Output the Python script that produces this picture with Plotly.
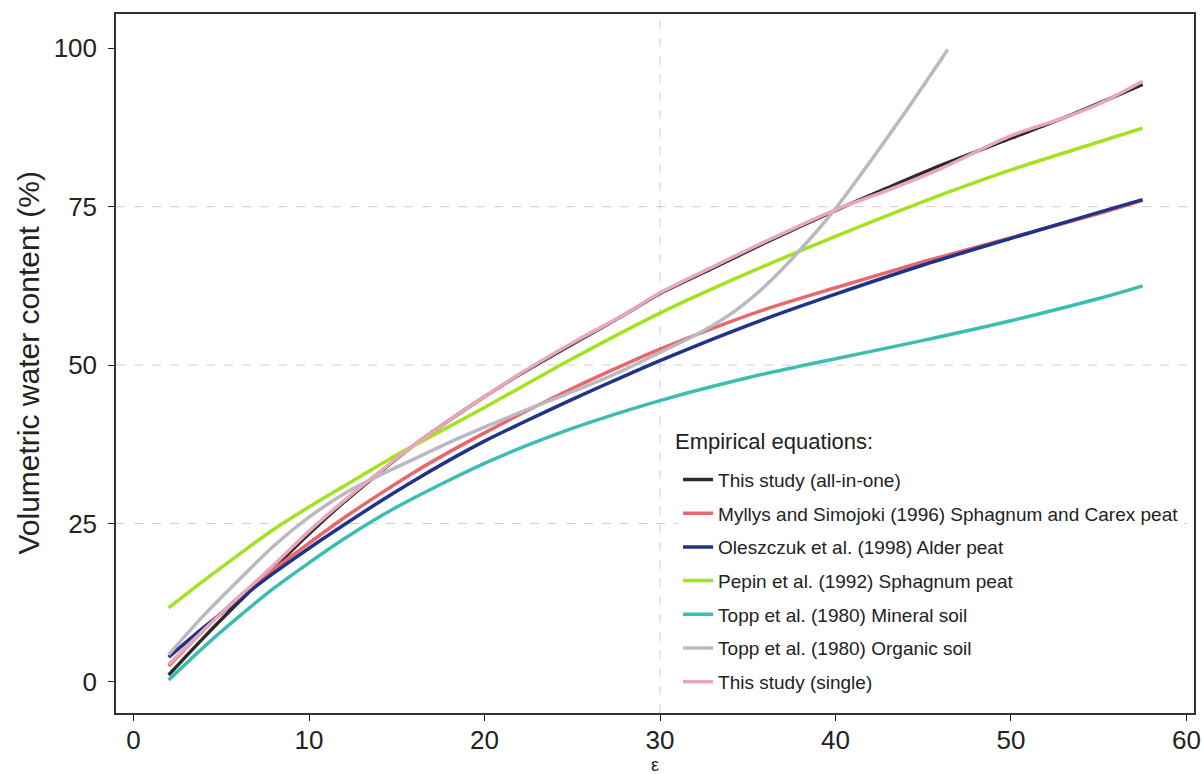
import plotly.graph_objects as go

# ---- data ----
eps_study = [2, 4, 6, 8, 10, 12, 14, 16, 18, 20, 22, 25, 28, 30, 33, 36, 40, 43, 46, 50, 53, 55, 57.5]
study_all = [1.1, 7.0, 12.6, 18.0, 23.4, 28.4, 33.0, 37.4, 41.3, 45.0, 48.5, 53.3, 58.0, 61.3, 65.3, 69.3,
             74.4, 78.0, 81.5, 85.8, 89.0, 91.3, 94.3]
study_single = [2.8, 8.2, 13.4, 18.5, 23.8, 28.6, 33.1, 37.4, 41.3, 45.0, 48.6, 53.5, 58.0, 61.4, 65.5, 69.5,
                74.5, 77.6, 81.0, 86.2, 89.0, 91.2, 94.8]

eps_peat = [2, 4, 6, 8, 10, 12, 14, 16, 18, 20, 22, 25, 28, 30, 33, 36, 40, 45, 50, 55, 57.5]
myllys = [2.5, 8.2, 13.4, 17.8, 21.9, 25.9, 29.6, 33.1, 36.3, 39.3, 42.2, 46.3, 50.1, 52.5, 55.8, 58.8,
          62.2, 66.3, 70.1, 73.9, 76.0]
oleszczuk = [3.9, 8.6, 13.0, 17.2, 21.1, 24.8, 28.4, 31.8, 35.0, 38.0, 40.7, 44.6, 48.3, 50.7, 54.1, 57.3,
             61.2, 65.8, 70.0, 74.1, 76.1]

eps_b = [2, 4, 6, 8, 10, 12, 15, 20, 25, 30, 35, 40, 45, 50, 55, 57.5]
pepin = [11.7, 16.0, 20.1, 24.1, 27.6, 30.9, 35.8, 43.3, 51.0, 58.2, 64.5, 70.3, 75.8, 80.8, 85.2, 87.4]
topp_mineral = [0.3, 5.5, 10.3, 14.8, 18.8, 22.6, 27.6, 34.5, 40.0, 44.4, 48.0, 51.0, 53.9, 57.0, 60.5, 62.5]

eps_org = [2, 4, 6, 8, 10, 12, 14, 16, 18, 20, 22, 24, 26, 28, 30, 32, 34, 36, 38, 40, 42, 44, 46.4]
topp_organic = [4.3, 10.5, 16.1, 21.5, 26.0, 29.7, 32.6, 35.2, 37.8, 40.2, 42.5, 44.7, 46.9, 49.3, 52.0,
                54.7, 58.0, 62.5, 68.2, 74.7, 82.2, 90.0, 99.8]

x_ticks = [0, 10, 20, 30, 40, 50, 60]
y_ticks = [0, 25, 50, 75, 100]
h_grid = [25, 50, 75]
v_grid = [30]

series = [
    ("This study (all-in-one)", eps_study, study_all, "#2b2b2b"),
    ("Myllys and Simojoki (1996) Sphagnum and Carex peat", eps_peat, myllys, "#e8676b"),
    ("Oleszczuk et al. (1998) Alder peat", eps_peat, oleszczuk, "#1f3389"),
    ("Pepin et al. (1992) Sphagnum peat", eps_b, pepin, "#a3e21f"),
    ("Topp et al. (1980) Mineral soil", eps_b, topp_mineral, "#3dbdb2"),
    ("Topp et al. (1980) Organic soil", eps_org, topp_organic, "#b9b9c3"),
    ("This study (single)", eps_study, study_single, "#eaa7ba"),
]

FONT = "Liberation Sans, Arial, sans-serif"
TXT = "#222222"

fig = go.Figure()
for i, (name, xs, ys, col) in enumerate(series):
    fig.add_trace(go.Scatter(
        x=xs, y=ys, name=name, mode="lines",
        line=dict(color=col, width=3.5, shape="spline", smoothing=0.8),
        legendgroup=f"g{i}",
    ))

shapes = []
for yv in h_grid:
    shapes.append(dict(type="line", xref="paper", x0=0, x1=1, yref="y", y0=yv, y1=yv,
                       line=dict(color="#cfcfcf", width=1, dash="dash"), layer="below"))
for xv in v_grid:
    shapes.append(dict(type="line", yref="paper", y0=0, y1=1, xref="x", x0=xv, x1=xv,
                       line=dict(color="#cfcfcf", width=1, dash="dash"), layer="below"))

fig.update_layout(
    width=1204, height=774,
    margin=dict(l=116, r=10, t=14, b=61),
    paper_bgcolor="white", plot_bgcolor="white",
    font=dict(family=FONT, color=TXT),
    shapes=shapes,
    showlegend=True,
    legend=dict(
        x=0.5214, y=0.361, xanchor="left", yanchor="top",
        bgcolor="white", borderwidth=0,
        font=dict(size=19, color=TXT),
        tracegroupgap=6,
    ),
    annotations=[
        dict(text="Volumetric water content (%)", textangle=-90,
             xref="paper", yref="paper", x=-0.0816, y=0.5, xanchor="center", yanchor="middle",
             showarrow=False, font=dict(size=30, color=TXT)),
        dict(text="Empirical equations:", xref="paper", yref="paper",
             x=0.5167, y=(713 - 441) / 699, xanchor="left", yanchor="middle",
             showarrow=False, font=dict(size=22, color=TXT)),
        dict(text="ε", xref="paper", yref="paper", x=0.5, y=0, yshift=-52,
             xanchor="center", yanchor="middle", showarrow=False, font=dict(size=18, color=TXT)),
    ],
)
fig.update_xaxes(
    range=[-1.0, 60.43], tickvals=x_ticks, ticks="outside", ticklen=6, tickcolor=TXT,
    tickfont=dict(size=26), showgrid=False, zeroline=False, automargin=False,
    showline=True, linecolor="#333", linewidth=1.5, mirror=True, ticklabelstandoff=-3,
)
fig.update_yaxes(
    range=[-4.9, 105.4], tickvals=y_ticks, ticks="outside", ticklen=6, tickcolor=TXT,
    tickfont=dict(size=26), showgrid=False, zeroline=False, automargin=False,
    showline=True, linecolor="#333", linewidth=1.5, mirror=True, ticklabelstandoff=6,
)

fig.write_html("out.html", config={"displayModeBar": False},
               post_script="document.body.style.margin='0';document.body.style.padding='0';")
